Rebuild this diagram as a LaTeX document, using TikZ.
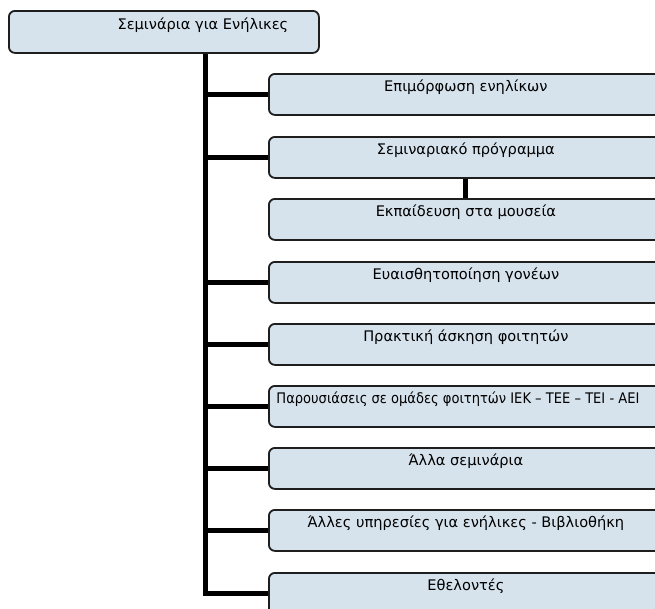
\documentclass[tikz,border=0pt]{standalone}
\usepackage{fontspec}
\setmainfont{DejaVu Sans}
\definecolor{boxfill}{RGB}{214,227,237}
\definecolor{boxline}{RGB}{30,30,30}
\tikzset{
  sembox/.style={draw=boxline,fill=boxfill,line width=1.8pt,rounded corners=6pt,
    anchor=north west,minimum width=394pt,minimum height=41pt,
    text height=15pt,text depth=20pt,inner ysep=3pt,inner xsep=0pt},
  rootbox/.style={sembox,minimum width=310pt,minimum height=42pt},
  trunk/.style={line width=5pt,draw=black}
}
\begin{document}
\begin{tikzpicture}[x=1pt,y=-1pt,font=\fontsize{14.6}{16}\selectfont]
  \clip (0,0) rectangle (655,608);
  \fill[white] (0,0) rectangle (655,608);
  \coordinate (tr) at (205,0);
  \coordinate (mid) at (465,0);
  % boxes
  \node[rootbox] (root) at (8,10) {\hspace*{78pt}Σεμινάρια για Ενήλικες};
  \node[sembox] (b1) at (268,73)  {Επιμόρφωση ενηλίκων};
  \node[sembox] (b2) at (268,136) {Σεμιναριακό πρόγραμμα};
  \node[sembox] (b3) at (268,198) {Εκπαίδευση στα μουσεία};
  \node[sembox] (b4) at (268,261) {Ευαισθητοποίηση γονέων};
  \node[sembox] (b5) at (268,323) {Πρακτική άσκηση φοιτητών};
  \node[sembox] (b6) at (268,385) {\hspace*{-16pt}\scalebox{0.895}[1]{Παρουσιάσεις σε ομάδες φοιτητών ΙΕΚ – ΤΕΕ – ΤΕΙ - ΑΕΙ}};
  \node[sembox] (b7) at (268,447) {Άλλα σεμινάρια};
  \node[sembox] (b8) at (268,509) {Άλλες υπηρεσίες για ενήλικες - Βιβλιοθήκη};
  \node[sembox] (b9) at (268,572) {Εθελοντές};
  % trunk and branches
  \draw[trunk] (root.south -| tr) |- (b9.west);
  \foreach \b in {b1,b2,b4,b5,b6,b7,b8}
    \draw[trunk] (\b.west -| tr) -- (\b.west);
  \draw[trunk] (b2.south -| mid) -- (b3.north -| mid);
\end{tikzpicture}
\end{document}
